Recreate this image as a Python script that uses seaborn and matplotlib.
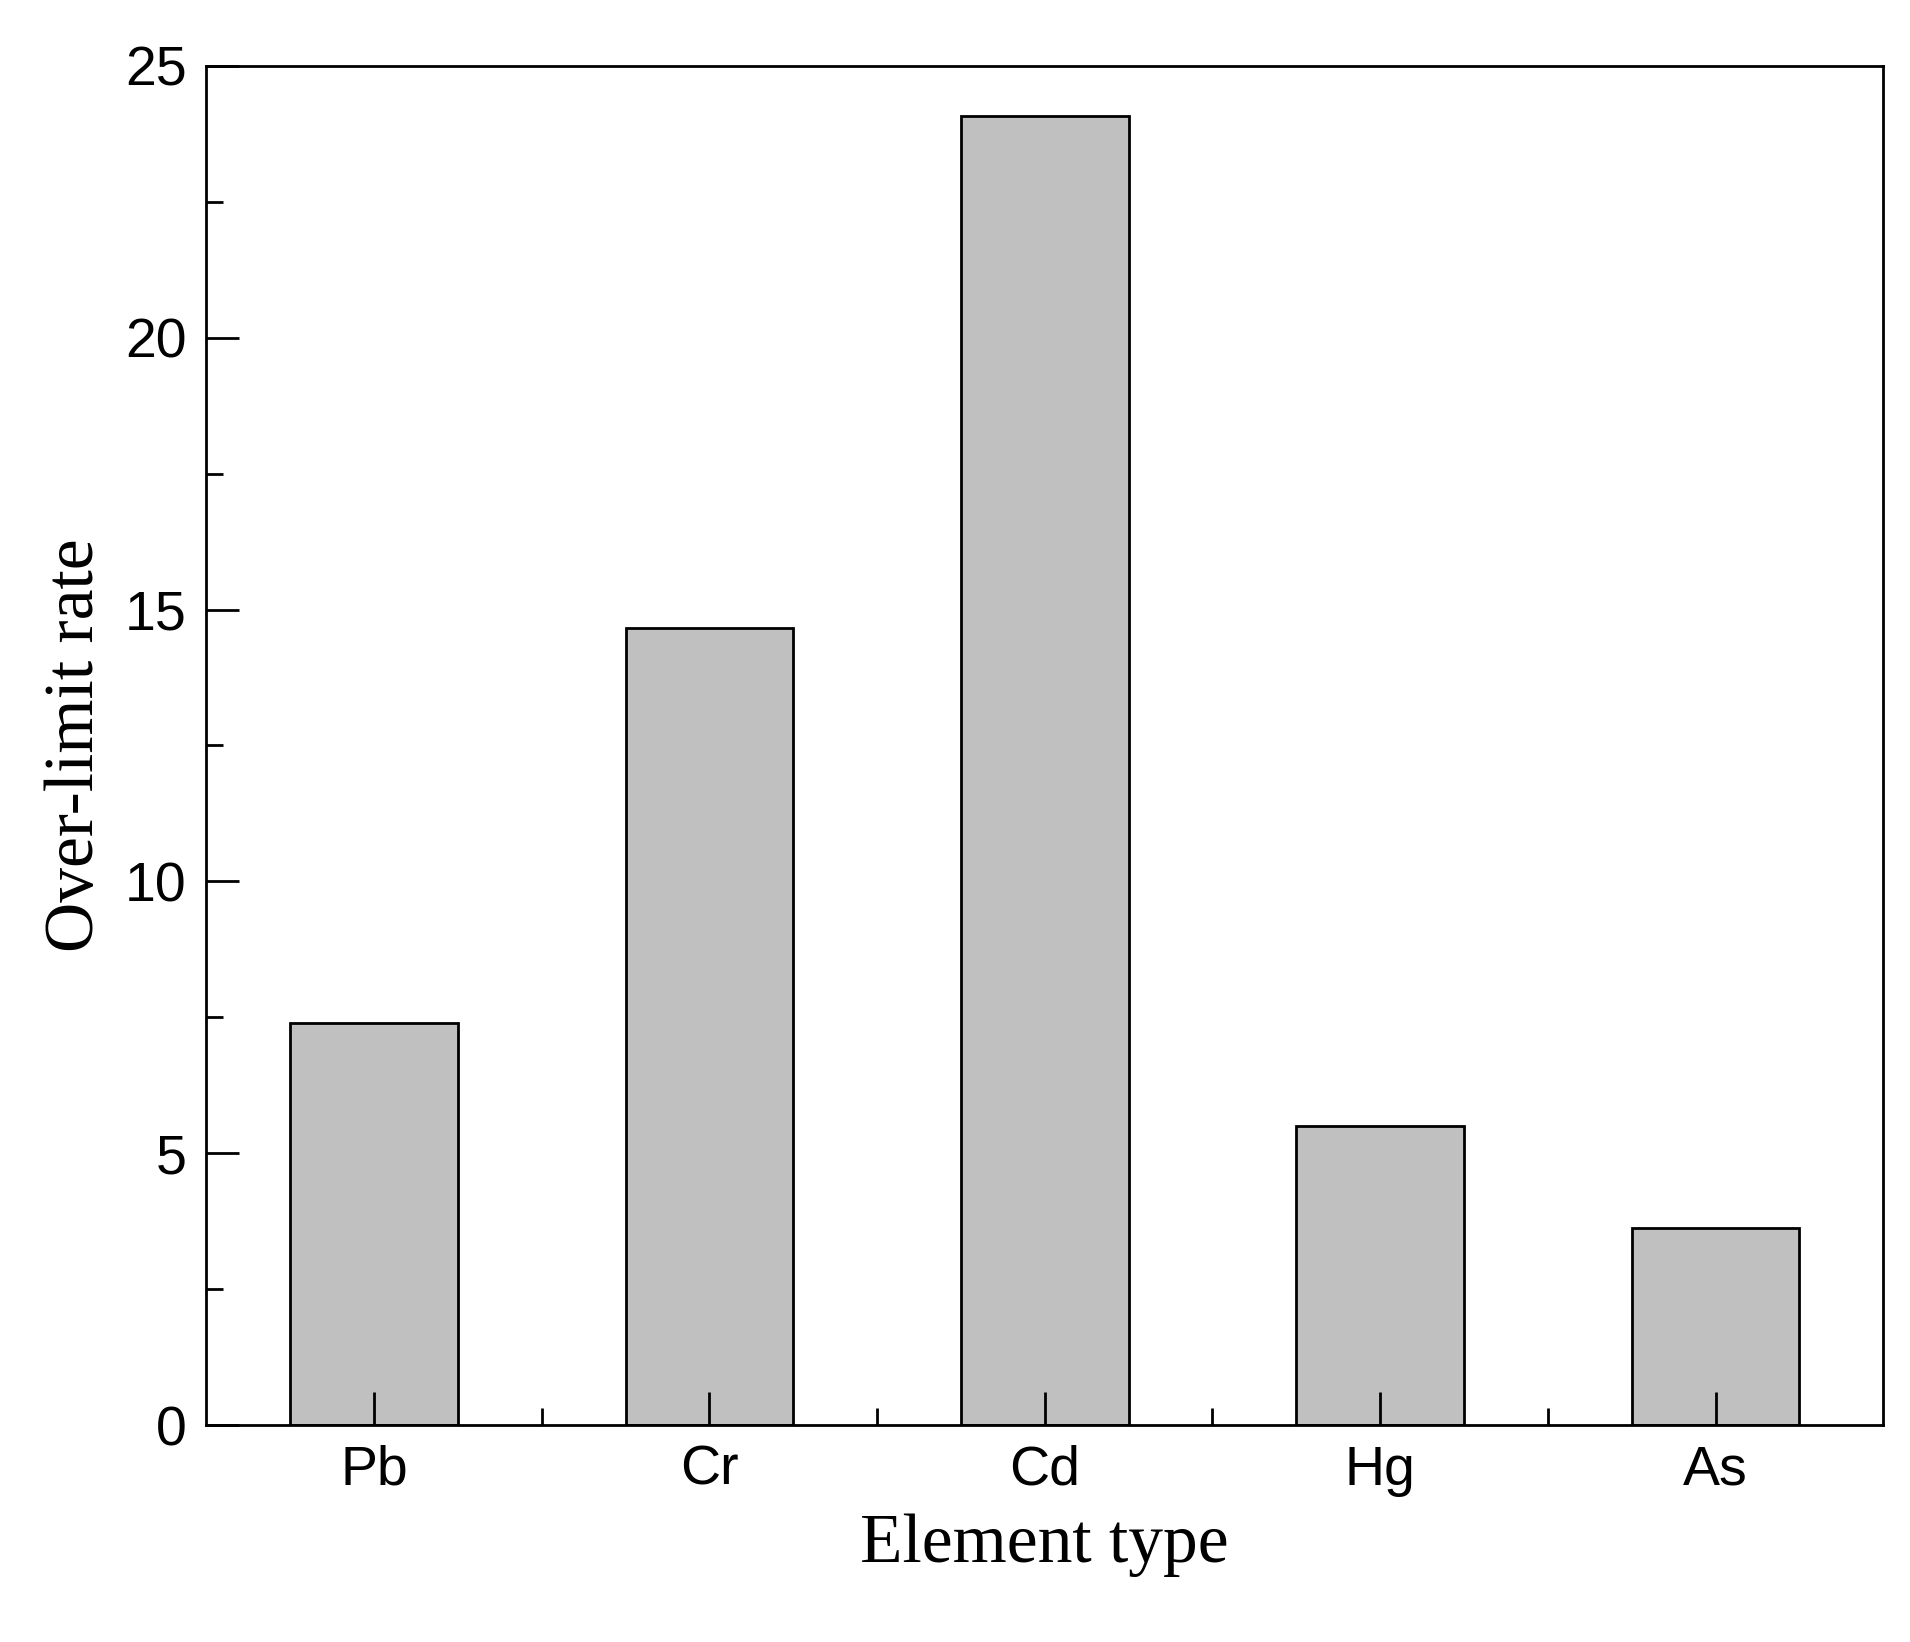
import matplotlib
matplotlib.use("Agg")
import matplotlib.pyplot as plt
from matplotlib.ticker import MultipleLocator, FixedLocator
import seaborn as sns
import pandas as pd

elements = ["Pb", "Cr", "Cd", "Hg", "As"]
rates = [7.39, 14.66, 24.08, 5.51, 3.63]

df = pd.DataFrame({"Element": elements, "Rate": rates})

sns.set_style("ticks")
fig = plt.figure(figsize=(19.1, 16.42), dpi=100)
ax = fig.add_axes([0.108, 0.132, 0.878, 0.828])

sns.barplot(data=df, x="Element", y="Rate", color="#c0c0c0", width=0.5,
            edgecolor="black", linewidth=2, saturation=1, ax=ax, zorder=1)
ax.set_axisbelow(False)

ax.set_ylim(0, 25)
ax.set_xlim(-0.5, 4.5)
ax.yaxis.set_major_locator(MultipleLocator(5))
ax.yaxis.set_minor_locator(MultipleLocator(2.5))
ax.xaxis.set_minor_locator(FixedLocator([0.5, 1.5, 2.5, 3.5]))
ax.tick_params(which="both", direction="in", width=2, top=False, right=False,
               color="black", labelcolor="black")
ax.tick_params(which="major", length=24, labelsize=40, pad=14)
ax.tick_params(which="minor", length=12)
for lab in ax.get_xticklabels() + ax.get_yticklabels():
    lab.set_fontfamily("Liberation Sans")
for s in ax.spines.values():
    s.set_linewidth(2)
    s.set_color("black")
    s.set_visible(True)

ax.set_xlabel("Element type", fontsize=50, family="Liberation Serif", labelpad=12, color="black")
ax.set_ylabel("Over-limit rate", fontsize=50, family="Liberation Serif", labelpad=12, color="black")

fig.savefig("out.png", dpi=100)
